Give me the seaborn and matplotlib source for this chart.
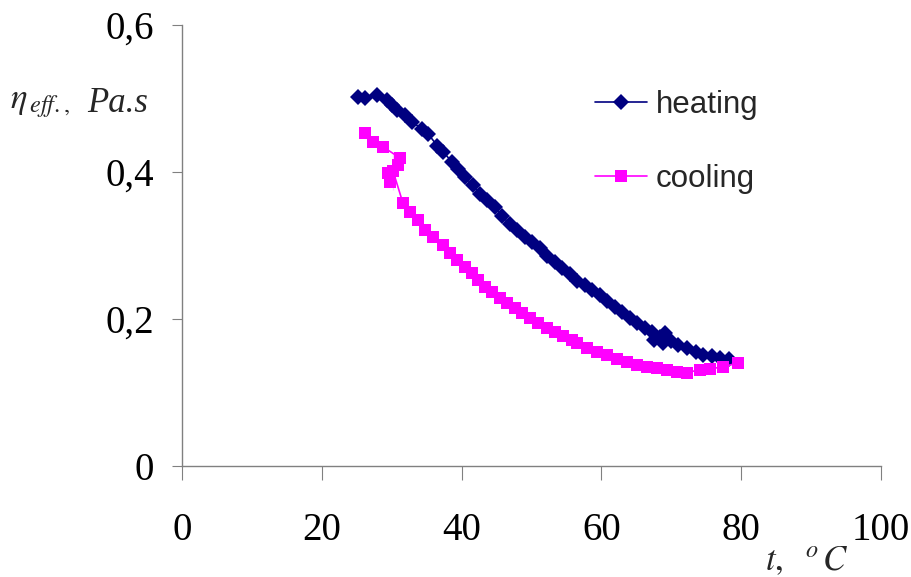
import matplotlib
matplotlib.use("Agg")
import matplotlib.pyplot as plt
import seaborn as sns

# ── Data ──────────────────────────────────────────────────────────────
heat_t = [25.2, 26.2, 27.9, 29.3, 30.0, 30.8, 31.9, 32.9, 34.3, 35.2,
          36.5, 37.4, 38.6, 39.5, 40.5, 41.6, 42.6, 43.6, 44.8, 45.8,
          46.9, 47.9, 49.1, 50.1, 51.2, 52.2, 53.4, 54.4, 55.5, 56.5,
          57.7, 58.7, 59.8, 60.8, 62.0, 63.0, 64.1, 65.1, 66.2, 67.2,
          68.4, 69.1, 67.5, 68.8, 70.0, 71.0, 72.3, 73.5, 74.6, 75.8,
          77.0, 78.3]
heat_eta = [0.502, 0.501, 0.505, 0.498, 0.491, 0.484, 0.477, 0.468, 0.459, 0.452,
            0.436, 0.427, 0.414, 0.404, 0.393, 0.382, 0.370, 0.362, 0.352, 0.340,
            0.329, 0.321, 0.312, 0.305, 0.297, 0.286, 0.278, 0.269, 0.261, 0.252,
            0.246, 0.240, 0.232, 0.224, 0.216, 0.209, 0.201, 0.194, 0.188, 0.182,
            0.176, 0.181, 0.171, 0.168, 0.170, 0.164, 0.160, 0.155, 0.151, 0.149,
            0.147, 0.146]

cool_t = [79.5, 77.4, 75.5, 74.1, 72.2, 70.8, 69.4, 68.0, 66.5, 65.1,
          63.7, 62.2, 60.8, 59.4, 57.9, 56.5, 55.8, 54.5, 53.4, 52.2,
          50.9, 49.8, 48.6, 47.6, 46.5, 45.5, 44.3, 43.3, 42.3, 41.5,
          40.5, 39.3, 38.3, 37.3, 35.9, 34.8, 33.8, 32.6, 31.6, 30.2,
          29.8, 29.5, 30.9, 31.2, 30.2, 28.8, 27.3, 26.2]
cool_eta = [0.140, 0.135, 0.132, 0.131, 0.127, 0.128, 0.131, 0.133, 0.135, 0.137,
            0.141, 0.146, 0.151, 0.155, 0.161, 0.167, 0.172, 0.177, 0.182, 0.188,
            0.195, 0.201, 0.208, 0.215, 0.222, 0.229, 0.237, 0.244, 0.253, 0.263,
            0.271, 0.280, 0.290, 0.301, 0.312, 0.321, 0.335, 0.346, 0.358, 0.376,
            0.386, 0.399, 0.410, 0.419, 0.426, 0.434, 0.441, 0.453]

x_ticks = [0, 20, 40, 60, 80, 100]
y_ticks = [0, 0.2, 0.4, 0.6]
y_tick_labels = ["0", "0,2", "0,4", "0,6"]

# ── Style ─────────────────────────────────────────────────────────────
sns.set_style("white")
plt.rcParams["mathtext.fontset"] = "stix"
plt.rcParams["font.family"] = ["Liberation Serif", "DejaVu Serif"]

fig = plt.figure(figsize=(9.12, 5.77), dpi=100)
ax = fig.add_axes([182 / 912, 1 - 466 / 577, (881 - 182) / 912, (466 - 25) / 577])

sns.lineplot(x=heat_t, y=heat_eta, sort=False, ax=ax, color="#000080",
             linewidth=1.2, marker="D", markersize=8.5, markeredgewidth=0,
             label="heating")
sns.lineplot(x=cool_t, y=cool_eta, sort=False, ax=ax, color="#FF00FF",
             linewidth=1.2, marker="s", markersize=8.5, markeredgewidth=0,
             label="cooling")

ax.set_xlim(0, 100)
ax.set_ylim(0, 0.6)
ax.set_xticks(x_ticks)
ax.set_xticklabels([str(v) for v in x_ticks])
ax.set_yticks(y_ticks)
ax.set_yticklabels(y_tick_labels)

for side in ["top", "right"]:
    ax.spines[side].set_visible(False)
for side in ["left", "bottom"]:
    ax.spines[side].set_color("#808080")
    ax.spines[side].set_linewidth(1.0)

ax.tick_params(axis="x", bottom=True, direction="out", length=10, width=0.8,
               color="#808080", pad=23, labelsize=28, labelcolor="black")
ax.tick_params(axis="y", left=True, direction="out", length=7, width=0.8,
               color="#808080", pad=13, labelsize=28, labelcolor="black")
ax.set_xlabel("")
ax.set_ylabel("")

# axis titles
fig.text(10 / 912, 1 - 104 / 577, r"$\eta_{\,eff.,}$", fontsize=25,
         ha="left", va="center")
fig.text(87 / 912, 1 - 104 / 577, "Pa.s", fontsize=25, style="italic",
         ha="left", va="center")
fig.text(848 / 912, 1 - 562 / 577, r"$t,\ \ ^{o\,}C$", fontsize=25,
         ha="right", va="center")

leg = ax.legend(loc="upper left", bbox_to_anchor=(595 / 912, 1 - 90 / 577),
                bbox_transform=fig.transFigure, frameon=False,
                prop={"family": "Liberation Sans", "size": 22.5},
                handlelength=1.65, handletextpad=0.3, labelspacing=1.4,
                borderpad=0, borderaxespad=0)

fig.savefig("out.png", dpi=100, facecolor="white")
